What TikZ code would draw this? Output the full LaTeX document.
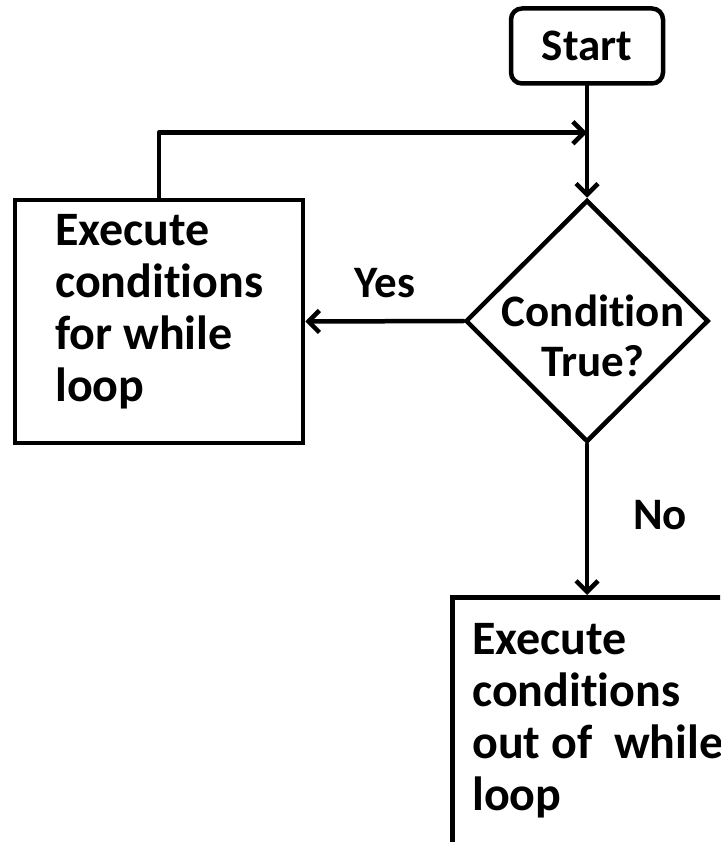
\documentclass[tikz,border=0pt]{standalone}
\usepackage{fontspec}
\setmainfont{Carlito}[RawFeature=-liga]
\usetikzlibrary{shapes.geometric,arrows.meta}
\tikzset{
  every node/.style={font=\fontsize{45}{50}\selectfont\bfseries},
  big/.style={font=\fontsize{48}{51.7}\selectfont\bfseries},
  ln/.style={line width=4.5pt, line cap=round, line join=round},
  arr/.style={ln, -{Straight Barb[length=11pt,width=22pt,line width=4.5pt]}},
  boxnode/.style={draw, line width=4.5pt, rectangle, inner sep=0pt},
  startnode/.style={draw, line width=4.5pt, rectangle, rounded corners=11pt, minimum width=152pt, minimum height=75pt, inner sep=0pt},
  decision/.style={draw, line width=4.5pt, diamond, minimum width=243pt, minimum height=242pt, inner sep=0pt},
  txt/.style={big, anchor=base west, align=left, inner sep=0pt},
}
\begin{document}
\begin{tikzpicture}[x=1pt,y=-1pt]
\useasboundingbox (0,0) rectangle (720,842);
\clip (0,0) rectangle (720,842);
\node[startnode] (st) at (587,46) {Start};
\node[decision] (d) at (587,321) {};
\node[anchor=base, align=center, inner sep=0pt] (dt) at (593,376) {Condition\\True?};
\node[boxnode, minimum width=288pt, minimum height=243pt] (lb) at (159,321.5) {};
\node[txt] (lbt) at (55,401) {Execute\\conditions\\for while\\loop};
\node[boxnode, minimum width=290pt, minimum height=265pt, anchor=north west] (bb) at (450,595) {};
\node[txt] (bbt) at (472,810) {Execute\\conditions\\out of~~while\\loop};
\node[inner sep=0pt] (yes) at (385,283) {Yes};
\node[inner sep=0pt] (no) at (660,515) {No};
\path (st.south) ++(0,47) coordinate (jn);
\draw[arr] (st.south) -- (d.north);
\draw[arr] (lb.north) |- (jn);
\draw[arr] (d.west) -- (lb.east);
\draw[arr] (d.south) -- (d.south |- bb.north);
\end{tikzpicture}
\end{document}
